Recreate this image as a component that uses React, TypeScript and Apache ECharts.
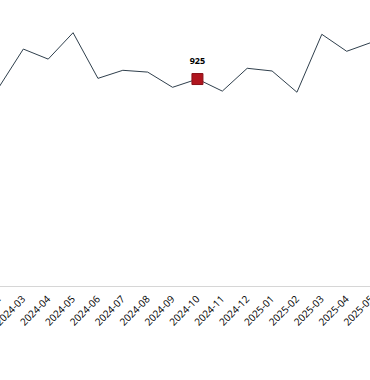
import React, { useEffect, useRef } from "react";
import * as echarts from "echarts";

const months = [
  "2024-02", "2024-03", "2024-04", "2024-05", "2024-06", "2024-07", "2024-08", "2024-09",
  "2024-10", "2024-11", "2024-12", "2025-01", "2025-02", "2025-03", "2025-04", "2025-05",
];
const values = [885, 1059, 1014, 1132, 928, 964, 956, 888, 925, 871, 973, 961, 866, 1125, 1049, 1089];
const highlightIndex = 8;

export default function App() {
  const ref = useRef<HTMLDivElement>(null);
  useEffect(() => {
    if (!ref.current) return;
    const chart = echarts.init(ref.current, undefined, { renderer: "svg" });
    chart.setOption({
      animation: false,
      grid: { left: 0, right: 0, top: 17.5, bottom: 94, containLabel: false, outerBoundsMode: "none" },
      xAxis: {
        type: "category",
        data: months,
        axisLine: { lineStyle: { color: "#d6d6d6" } },
        axisTick: { show: false },
        axisLabel: {
          rotate: 45,
          fontSize: 10,
          fontFamily: "Open Sans, sans-serif",
          color: "#000",
          margin: 11,
          interval: 0,
        },
      },
      yAxis: { type: "value", min: 0, max: 1200, show: false, splitLine: { show: false } },
      series: [
        {
          type: "line",
          data: values.map((v, i) =>
            i === highlightIndex
              ? {
                  value: v,
                  symbol: "rect",
                  symbolSize: 11,
                  itemStyle: { color: "#b0151e", borderColor: "#8a1018", borderWidth: 1 },
                  label: {
                    show: true,
                    position: "top",
                    distance: 8,
                    color: "#000",
                    fontSize: 9,
                    fontFamily: "Open Sans, sans-serif",
                    fontWeight: "bold",
                  },
                }
              : v
          ),
          showSymbol: true,
          symbol: "none",
          lineStyle: { color: "#2f3f4c", width: 1 },
          itemStyle: { color: "#2f3f4c" },
        },
      ],
    });
    return () => chart.dispose();
  }, []);
  return (
    <div style={{ position: "fixed", left: 0, top: 0, width: 370, height: 380, overflow: "hidden", background: "#fff" }}>
      <div ref={ref} style={{ position: "absolute", left: -13.6, top: 0, width: 398, height: 380 }} />
    </div>
  );
}
